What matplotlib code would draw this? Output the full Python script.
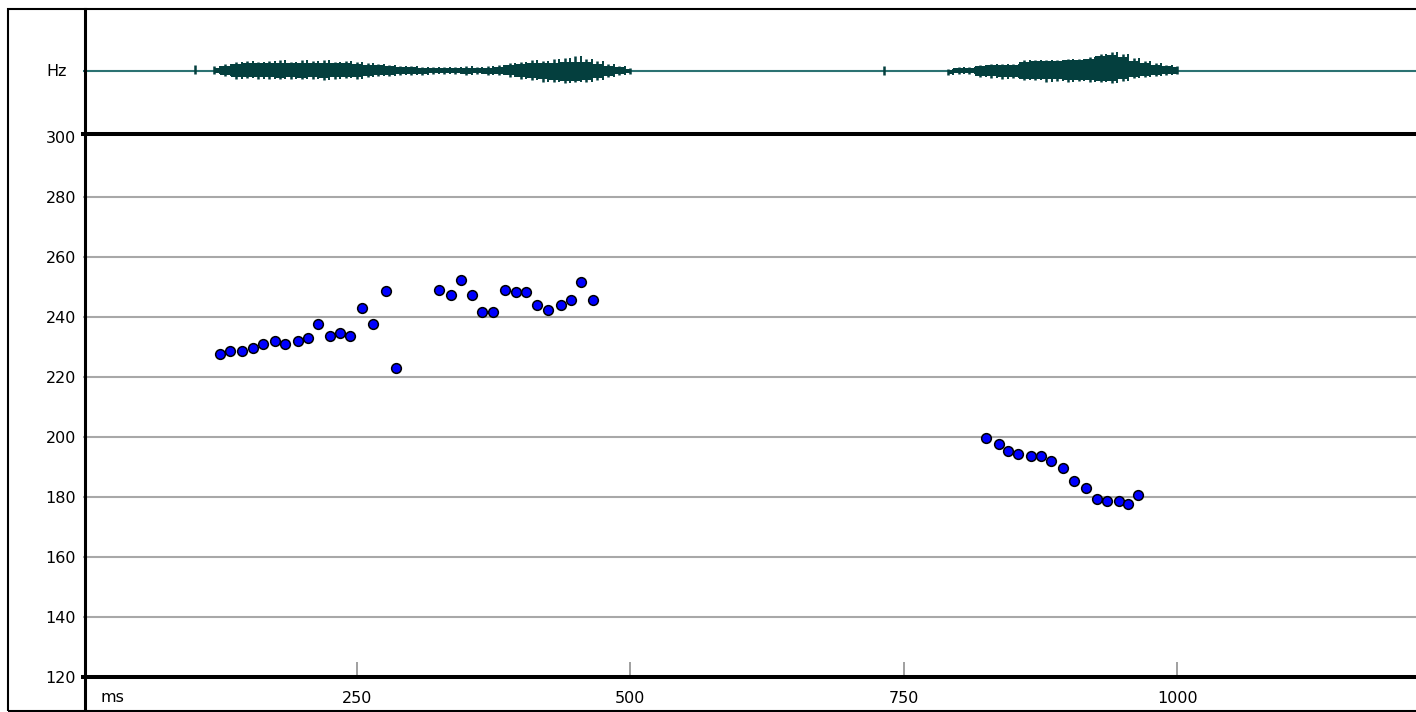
import matplotlib
matplotlib.use("Agg")
import matplotlib.pyplot as plt
from matplotlib.lines import Line2D
from matplotlib.patches import Rectangle

# pitch track (ms, Hz)
voiced1_ms = [125.0, 134.4, 145.7, 155.1, 164.5, 175.5, 184.6, 196.2, 205.6, 214.7,
              225.6, 235.1, 244.3, 255.2, 264.9, 276.5, 285.6,
              325.1, 335.8, 345.2, 355.8, 365.0, 374.7, 385.9, 395.3, 404.5,
              415.1, 424.5, 436.4, 445.9, 455.0, 466.0]
voiced1_hz = [227.7, 228.7, 228.6, 229.6, 231.1, 232.0, 231.1, 232.0, 233.0, 237.8,
              233.7, 234.6, 233.7, 242.9, 237.8, 248.8, 222.9,
              249.1, 247.4, 252.4, 247.4, 241.7, 241.7, 249.1, 248.3, 248.3,
              244.1, 242.4, 244.1, 245.8, 251.7, 245.8]
voiced2_ms = [825.5, 836.7, 845.5, 854.7, 866.5, 875.6, 884.8, 895.7, 905.1, 916.7,
              926.1, 935.5, 946.2, 955.3, 964.4]
voiced2_hz = [199.7, 197.8, 195.4, 194.4, 193.8, 193.8, 192.0, 189.6, 185.3, 182.9,
              179.3, 178.7, 178.7, 177.8, 180.8]

# waveform envelope, 10 ms frames (amplitude in screen units, +/- 61 full scale)
burst1_ms = list(range(120, 501, 10))
burst1_up = [3, 5, 7, 8, 8, 8, 8, 8, 8, 8, 8, 8, 8, 7, 6, 6, 5, 4, 4, 3,
             3, 3, 3, 3, 3, 3, 4, 6, 7, 8, 8, 8, 9, 9, 9, 7, 5, 4, 2]
burst1_dn = [2, 4, 6, 6, 6, 6, 7, 6, 7, 6, 7, 6, 6, 6, 5, 4, 4, 3, 3, 3,
             2, 2, 2, 3, 2, 3, 3, 4, 6, 7, 8, 9, 10, 10, 9, 7, 5, 3, 2]
burst1_pk_up = [5, 7, 9, 10, 9, 10, 11, 9, 11, 10, 11, 9, 10, 9, 8, 7, 6, 5, 5, 4,
                4, 4, 4, 5, 4, 5, 6, 8, 9, 11, 10, 12, 13, 15, 12, 10, 7, 5, 3]
burst1_pk_dn = [3, 5, 8, 7, 8, 8, 8, 8, 8, 8, 9, 8, 7, 8, 6, 5, 5, 4, 4, 4,
                3, 3, 3, 4, 3, 4, 4, 6, 8, 9, 11, 11, 12, 11, 11, 9, 6, 4, 3]

burst2_ms = list(range(790, 1001, 10))
burst2_up = [1, 3, 3, 5, 6, 6, 6, 9, 10, 10, 10, 11, 11, 12, 15, 16, 14, 10, 8, 6, 5, 4]
burst2_dn = [3, 2, 2, 5, 5, 6, 6, 8, 8, 8, 8, 9, 9, 9, 10, 10, 8, 6, 5, 4, 3, 3]
burst2_pk_up = [2, 4, 4, 6, 7, 7, 7, 11, 11, 11, 11, 12, 12, 14, 17, 19, 17, 13, 10, 8, 6, 5]
burst2_pk_dn = [4, 3, 3, 6, 7, 8, 7, 9, 9, 11, 10, 11, 10, 11, 11, 12, 10, 7, 6, 5, 4, 3]

click_ms = [102, 732]
click_up = [6, 5]
click_dn = [3, 4]

hz_ticks = list(range(120, 301, 20))
ms_ticks = [250, 500, 750, 1000]

W, H = 1416, 712
WAVE = "#043f3e"


def fx(px):
    return px / W


def fy(py):
    return 1 - py / H


plt.rcParams["font.family"] = ["DejaVu Sans"]
fig = plt.figure(figsize=(W / 100, H / 100), dpi=100)
fig.patch.set_facecolor("white")

# pitch panel
ax = fig.add_axes([fx(83), fy(677), (1416 - 83) / W, (677 - 134) / H])
ax.set_xlim(0, 1218)
ax.set_ylim(120, 301)
ax.set_yticks(hz_ticks)
for hz in hz_ticks[1:-1]:
    ax.axhline(hz, color="#a8a8a8", linewidth=1.5, zorder=0)
ax.set_xticks(ms_ticks)
ax.tick_params(axis="y", length=0, pad=5, labelsize=11.5)
ax.tick_params(axis="x", direction="in", length=10.5, width=1.2, color="#909090",
               pad=10, labelsize=11.5)
for side in ("left", "right"):
    ax.spines[side].set_visible(False)
for side in ("top", "bottom"):
    ax.spines[side].set_linewidth(2.9)
    ax.spines[side].set_color("black")

for t, f in ((voiced1_ms, voiced1_hz), (voiced2_ms, voiced2_hz)):
    ax.plot(t, f, linestyle="none", marker="o", markersize=7,
            markerfacecolor="#0000ff", markeredgecolor="black",
            markeredgewidth=1.1, zorder=3)

# waveform panel: body envelope per frame, peaks between frames
aw = fig.add_axes([fx(83), fy(132), (1416 - 83) / W, (132 - 10) / H])
aw.set_xlim(0, 1218)
aw.set_ylim(-61, 61)
aw.axis("off")
aw.axhline(0, color="#2b7272", linewidth=1.5, zorder=1)
for t, up, dn, pu, pd in ((burst1_ms, burst1_up, burst1_dn, burst1_pk_up, burst1_pk_dn),
                          (burst2_ms, burst2_up, burst2_dn, burst2_pk_up, burst2_pk_dn)):
    aw.fill_between(t, up, [-d for d in dn], step="mid", color=WAVE,
                    linewidth=0, zorder=2)
    aw.vlines(t, [-d for d in pd], pu, color=WAVE, linewidth=1.8, zorder=2)
    aw.vlines([v + 5 for v in t[:-1]], [-d for d in pd[:-1]], pu[:-1],
              color=WAVE, linewidth=1.4, zorder=2)
aw.vlines(click_ms, [-d for d in click_dn], click_up, color=WAVE, linewidth=1.8)

# frame and labels
fig.patches.append(Rectangle((fx(8), fy(711)), 1.0, fy(9) - fy(711),
                             transform=fig.transFigure, fill=False,
                             edgecolor="black", linewidth=1.5))
fig.add_artist(Line2D([fx(85), fx(85)], [fy(9), fy(711)], color="black",
                      linewidth=2.2))
fig.text(fx(67), fy(71), "Hz", ha="right", va="center", fontsize=11.5)
fig.text(fx(100), fy(697), "ms", ha="left", va="center", fontsize=11.5)

fig.savefig("out.png", dpi=100)
